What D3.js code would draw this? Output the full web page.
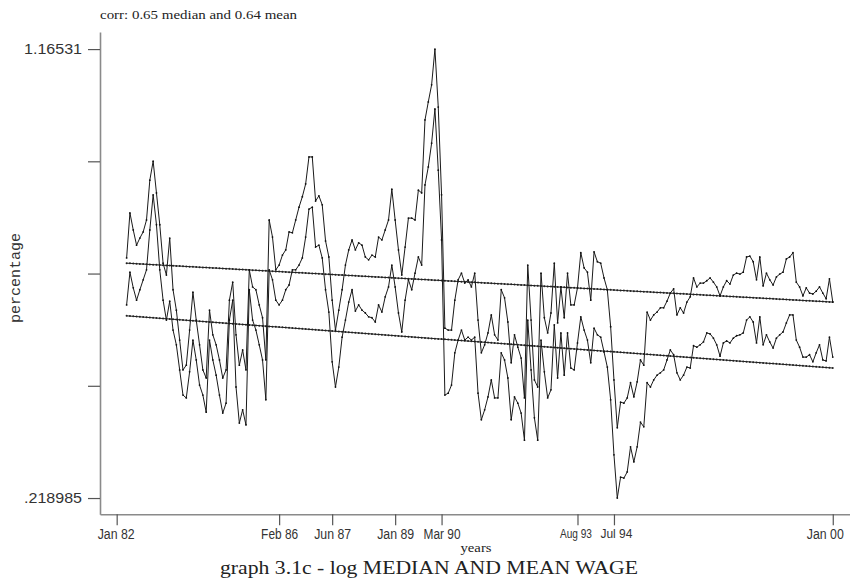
<!DOCTYPE html>
<html><head><meta charset="utf-8">
<script src="https://cdn.jsdelivr.net/npm/d3@7"></script>
<style>body{margin:0;background:#fff}</style>
</head><body><svg id="c" width="850" height="579"></svg>
<script>
// months counted from Jan 1982 (index 0); data start Apr 1982
const firstMonth = 3;
const meanWage = [
0.725,0.820,0.784,0.752,0.767,0.780,0.805,0.889,0.929,0.862,
0.795,0.714,0.689,0.767,0.658,0.615,0.552,0.489,0.499,0.573,
0.653,0.594,0.542,0.489,0.472,0.615,0.563,0.542,0.510,0.472,
0.489,0.636,0.674,0.563,0.499,0.531,0.489,0.700,0.664,0.658,
0.626,0.599,0.510,0.805,0.769,0.700,0.710,0.731,0.742,0.780,
0.778,0.805,0.832,0.854,0.881,0.938,0.938,0.845,0.856,0.837,
0.761,0.727,0.636,0.573,0.615,0.658,0.710,0.742,0.763,0.742,
0.757,0.752,0.727,0.721,0.731,0.727,0.769,0.763,0.784,0.805,
0.870,0.805,0.742,0.689,0.748,0.809,0.809,0.805,0.868,0.862,
1.016,1.054,1.090,1.16531,1.043,0.858,0.577,0.573,0.573,0.636,
0.679,0.693,0.672,0.679,0.664,0.693,0.594,0.525,0.542,0.567,
0.605,0.563,0.552,0.658,0.641,0.590,0.504,0.563,0.537,0.514,
0.430,0.710,0.594,0.468,0.453,0.693,0.599,0.567,0.609,0.714,
0.588,0.664,0.599,0.693,0.626,0.626,0.662,0.736,0.704,0.695,
0.636,0.738,0.717,0.714,0.683,0.658,0.580,0.468,0.367,0.421,
0.419,0.430,0.462,0.432,0.464,0.510,0.499,0.611,0.594,0.605,
0.611,0.620,0.620,0.634,0.651,0.660,0.605,0.620,0.609,0.632,
0.643,0.683,0.664,0.672,0.672,0.677,0.683,0.674,0.664,0.645,
0.664,0.677,0.670,0.689,0.693,0.691,0.695,0.727,0.729,0.717,
0.679,0.727,0.666,0.693,0.679,0.668,0.685,0.691,0.695,0.723,
0.727,0.736,0.674,0.664,0.645,0.662,0.651,0.649,0.655,0.664,
0.651,0.639,0.681,0.632];
const medianWage = [
0.626,0.695,0.662,0.636,0.658,0.679,0.700,0.784,0.858,0.795,
0.700,0.636,0.594,0.634,0.573,0.542,0.489,0.436,0.430,0.485,
0.552,0.510,0.457,0.436,0.400,0.552,0.510,0.478,0.436,0.398,
0.419,0.594,0.636,0.453,0.377,0.405,0.373,0.658,0.594,0.573,
0.542,0.510,0.426,0.700,0.679,0.636,0.626,0.636,0.658,0.668,
0.700,0.700,0.710,0.725,0.769,0.828,0.832,0.748,0.752,0.725,
0.658,0.611,0.506,0.453,0.495,0.558,0.594,0.632,0.658,0.613,
0.626,0.615,0.609,0.601,0.599,0.590,0.626,0.611,0.643,0.664,
0.710,0.664,0.609,0.569,0.636,0.679,0.658,0.693,0.727,0.710,
0.879,0.917,0.967,1.039,0.910,0.763,0.436,0.440,0.457,0.525,
0.552,0.573,0.552,0.558,0.552,0.558,0.440,0.384,0.405,0.432,
0.468,0.430,0.430,0.525,0.510,0.472,0.384,0.432,0.419,0.398,
0.341,0.594,0.489,0.388,0.341,0.552,0.485,0.430,0.447,0.584,
0.472,0.567,0.478,0.567,0.493,0.489,0.546,0.601,0.573,0.552,
0.504,0.577,0.563,0.558,0.527,0.495,0.426,0.310,0.218985,0.263,
0.261,0.274,0.327,0.295,0.327,0.379,0.369,0.462,0.453,0.468,
0.478,0.483,0.489,0.510,0.531,0.521,0.483,0.468,0.478,0.495,
0.493,0.540,0.537,0.542,0.548,0.567,0.565,0.556,0.542,0.518,
0.546,0.550,0.546,0.556,0.561,0.563,0.567,0.594,0.601,0.590,
0.546,0.601,0.542,0.563,0.548,0.535,0.556,0.563,0.569,0.588,
0.605,0.605,0.552,0.537,0.516,0.516,0.521,0.506,0.525,0.542,
0.510,0.508,0.558,0.516];
// linear fitted values at first and last month
const trendMean = [0.714, 0.632];
const trendMedian = [0.603, 0.493];
const xTickMonths = [0, 49, 65, 84, 98, 139, 150, 216];
const xTickLabels = ["Jan 82","Feb 86","Jun 87","Jan 89","Mar 90","Aug 93","Jul 94","Jan 00"];
const yTickValues = [0.218985, 0.455566, 0.692148, 0.928729, 1.16531];
const yTickLabels = [".218985", "", "", "", "1.16531"];

const svg = d3.select("#c");
const x = d3.scaleLinear().domain([-5.03, 221.2]).range([100, 850]);
const y = d3.scaleLinear().domain([0.1847, 1.2013]).range([514.3, 32]);
const months = meanWage.map((d, i) => firstMonth + i);
const lastMonth = months[months.length - 1];

// axes
const yAxis = svg.append("g").attr("transform", "translate(100,0)")
  .call(d3.axisLeft(y).tickValues(yTickValues).tickFormat((d, i) => yTickLabels[i]).tickSize(12).tickSizeOuter(0).tickPadding(6));
const xAxis = svg.append("g").attr("transform", "translate(0,514.3)")
  .call(d3.axisBottom(x).tickValues(xTickMonths).tickFormat((d, i) => xTickLabels[i]).tickSize(11).tickSizeOuter(0).tickPadding(4));
[yAxis, xAxis].forEach(g => {
  g.select(".domain").attr("stroke", "#8a8a8a").attr("stroke-width", 1.6);
  g.selectAll(".tick line").attr("stroke", "#555").attr("stroke-width", 1.2);
  g.selectAll(".tick text").attr("fill", "#333")
    .style("font-family", "'Liberation Sans Narrow','Liberation Sans',Arial,sans-serif").style("font-size", "14px");
});
yAxis.selectAll(".tick text").attr("textLength", 58).attr("lengthAdjust", "spacingAndGlyphs");
xAxis.selectAll(".tick text").attr("lengthAdjust", "spacingAndGlyphs")
  .attr("textLength", (d, i) => (i === 5 || i === 6) ? 32 : 37)
  .style("font-size", (d, i) => (i === 5 || i === 6) ? "12px" : "14px")
  .attr("dx", (d, i) => ({0: -1, 5: -2, 6: 2, 7: -8})[i] || 0);

// trend lines with dots at every month
function drawTrend(ends) {
  const f = d3.interpolateNumber(ends[0], ends[1]);
  const pts = months.map(m => [m, f((m - firstMonth) / (lastMonth - firstMonth))]);
  svg.append("path").datum(pts)
    .attr("d", d3.line().x(d => x(d[0])).y(d => y(d[1])))
    .attr("fill", "none").attr("stroke", "#222").attr("stroke-width", 1);
  svg.append("g").selectAll("circle").data(pts).join("circle")
    .attr("cx", d => x(d[0])).attr("cy", d => y(d[1])).attr("r", 1).attr("fill", "#222");
}
drawTrend(trendMean);
drawTrend(trendMedian);

// series
function drawSeries(vals) {
  const pts = vals.map((v, i) => [months[i], v]);
  svg.append("path").datum(pts)
    .attr("d", d3.line().x(d => x(d[0])).y(d => y(d[1])))
    .attr("fill", "none").attr("stroke", "#1a1a1a").attr("stroke-width", 1);
  svg.append("g").selectAll("circle").data(pts).join("circle")
    .attr("cx", d => x(d[0])).attr("cy", d => y(d[1])).attr("r", 0.9).attr("fill", "#111");
}
drawSeries(meanWage);
drawSeries(medianWage);

// texts
svg.append("text").attr("x", 100).attr("y", 19).text("corr: 0.65 median and 0.64 mean")
  .attr("textLength", 197).attr("lengthAdjust", "spacingAndGlyphs")
  .style("font-family", "'Liberation Serif',serif").style("font-size", "12px").attr("fill", "#222");
svg.append("text").attr("transform", "translate(20,278) rotate(-90)").attr("text-anchor", "middle")
  .text("percentage").attr("textLength", 90).attr("lengthAdjust", "spacingAndGlyphs")
  .style("font-family", "'Liberation Mono',monospace").style("font-size", "14px").attr("fill", "#333");
svg.append("text").attr("x", 476).attr("y", 552).attr("text-anchor", "middle").text("years")
  .attr("textLength", 31).attr("lengthAdjust", "spacingAndGlyphs")
  .style("font-family", "'Liberation Serif',serif").style("font-size", "13px").attr("fill", "#222");
svg.append("text").attr("x", 220).attr("y", 574).text("graph 3.1c - log MEDIAN AND MEAN WAGE")
  .attr("textLength", 418).attr("lengthAdjust", "spacingAndGlyphs")
  .style("font-family", "'Liberation Serif',serif").style("font-size", "18px").attr("fill", "#222");
</script></body></html>
